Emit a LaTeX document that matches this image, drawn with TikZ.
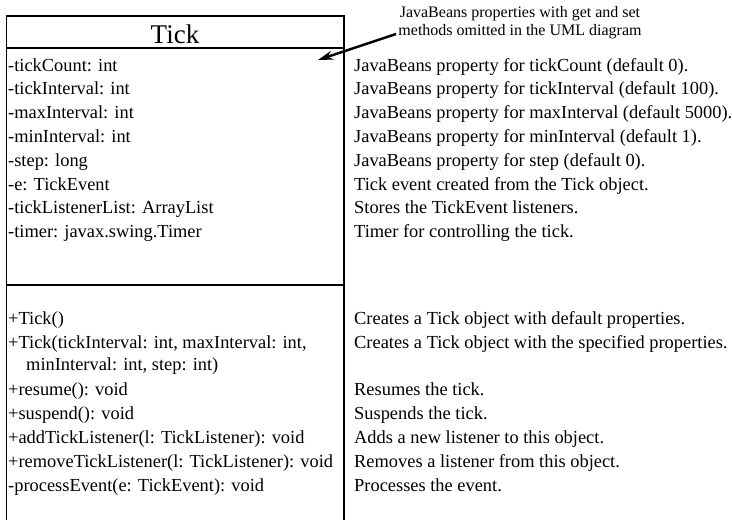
\documentclass[tikz,border=0pt]{standalone}
\usepackage{fontspec}
\setmainfont{Liberation Serif}
\usetikzlibrary{arrows.meta}
\definecolor{lcol}{HTML}{000000}

\begin{document}
\begin{tikzpicture}[x=1pt,y=-1pt,>={Stealth[length=15pt,width=9pt]}]
\tikzset{mem/.style={anchor=base west,inner sep=0pt,font=\fontsize{18.4}{21}\selectfont},
  desc/.style={mem}}
\useasboundingbox (0,0) rectangle (732,520);
\draw[lcol,line width=1.3pt] (6.5,520)--(6.5,16)--(344,16)--(344,520);
\draw[lcol,line width=1.3pt] (6.5,48)--(344,48);
\draw[lcol,line width=1.3pt] (6.5,285)--(344,285);
\node[anchor=base,inner sep=0pt,font=\fontsize{27}{30}\selectfont] (name) at (175,43) {Tick};
% attributes
\node[mem] (a1) at (8,71) {-tickCount: int};
\node[mem] (a2) at (8,94.8) {-tickInterval: int};
\node[mem] (a3) at (8,118.6) {-maxInterval: int};
\node[mem] (a4) at (8,142.4) {-minInterval: int};
\node[mem] (a5) at (8,166.2) {-step: long};
\node[mem] (a6) at (8,190) {-e: TickEvent};
\node[mem] (a7) at (8,213.8) {-tickListenerList: ArrayList};
\node[mem] (a8) at (8,237.6) {-timer: javax.swing.Timer};
\node[desc] (d1) at (354,71) {JavaBeans property for tickCount (default 0).};
\node[desc] (d2) at (354,94.8) {JavaBeans property for tickInterval (default 100).};
\node[desc] (d3) at (354,118.6) {JavaBeans property for maxInterval (default 5000).};
\node[desc] (d4) at (354,142.4) {JavaBeans property for minInterval (default 1).};
\node[desc] (d5) at (354,166.2) {JavaBeans property for step (default 0).};
\node[desc] (d6) at (354,190) {Tick event created from the Tick object.};
\node[desc] (d7) at (354,213.8) {Stores the TickEvent listeners.};
\node[desc] (d8) at (354,237.6) {Timer for controlling the tick.};
% methods
\node[mem] (m1) at (8,324) {+Tick()};
\node[mem] (m2) at (8,348) {+Tick(tickInterval: int, maxInterval: int,};
\node[mem] (m2b) at (26,370) {minInterval: int, step: int)};
\node[mem] (m3) at (8,395) {+resume(): void};
\node[mem] (m4) at (8,419) {+suspend(): void};
\node[mem] (m5) at (8,443) {+addTickListener(l: TickListener): void};
\node[mem] (m6) at (8,467) {+removeTickListener(l: TickListener): void};
\node[mem] (m7) at (8,491) {-processEvent(e: TickEvent): void};
\node[desc] (e1) at (354,324) {Creates a Tick object with default properties.};
\node[desc] (e2) at (354,348) {Creates a Tick object with the specified properties.};
\node[desc] (e3) at (354,395) {Resumes the tick.};
\node[desc] (e4) at (354,419) {Suspends the tick.};
\node[desc] (e5) at (354,443) {Adds a new listener to this object.};
\node[desc] (e6) at (354,467) {Removes a listener from this object.};
\node[desc] (e7) at (354,491) {Processes the event.};
% note on the omitted get/set methods
\node[anchor=north,inner sep=0pt,align=center,font=\fontsize{16}{18}\selectfont] (note) at (520,6)
  {JavaBeans properties with get and set\\methods omitted in the UML diagram};
\coordinate (tail) at (396,34);
\coordinate (tip) at (318,60);
\draw[->,lcol,line width=2.5pt] (tail)--(tip);
\end{tikzpicture}
\end{document}
